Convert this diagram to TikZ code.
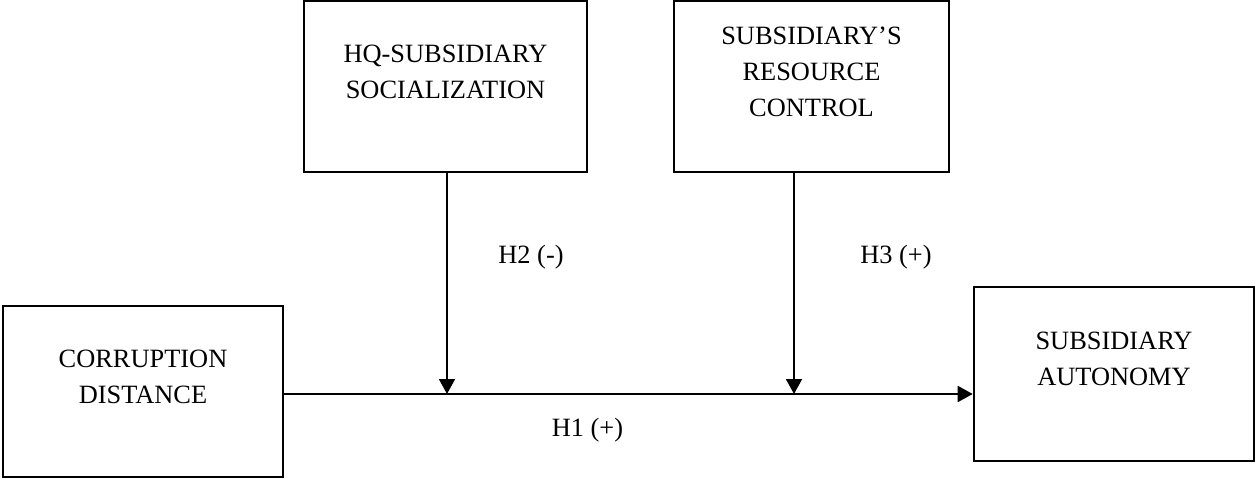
\documentclass[tikz,border=0pt]{standalone}
\usepackage{fontspec}
\setmainfont{Liberation Serif}
\usetikzlibrary{arrows.meta}
\tikzstyle{factor} = [
    rectangle,
    minimum width=280pt,
    minimum height=171pt,
    inner sep=0pt,
    line width=2.6pt,
    draw=black
]
\tikzstyle{boxtext} = [
    align=center,
    inner sep=0pt,
    font=\fontsize{26.4}{36}\selectfont
]
\tikzstyle{hyp} = [
    inner sep=0pt,
    font=\fontsize{26.4}{36}\selectfont
]
\tikzstyle{arrow} = [line width=1.8pt,-{Triangle[length=15pt,width=16pt]}]

\begin{document}
\begin{tikzpicture}[x=1pt,y=-1pt]

\useasboundingbox (0,0) rectangle (1255,478);

\node (socialization) [factor, minimum width=283pt] at (445.5,86.5) {};
\node (socializationtext) [boxtext] at (445.5,72)
{HQ-SUBSIDIARY\\SOCIALIZATION};

\node (resource) [factor, minimum width=275pt] at (811.5,86.5) {};
\node (resourcetext) [boxtext] at (811.5,71.7)
{SUBSIDIARY’S\\RESOURCE\\CONTROL};

\node (corruption) [factor] at (143,391.5) {};
\node (corruptiontext) [boxtext] at (143,377)
{CORRUPTION\\DISTANCE};

\node (autonomy) [factor, minimum height=174pt] at (1114,374) {};
\node (autonomytext) [boxtext] at (1114,359)
{SUBSIDIARY\\AUTONOMY};

\coordinate (join1) at (447,394);
\coordinate (join2) at (794,394);

\node (h1) [hyp] at (587.5,430) {H1 (+)};
\node (h2) [hyp] at (531,257) {H2 (-)};
\node (h3) [hyp] at (896,257) {H3 (+)};

\draw [arrow] (socialization.south -| join1) -- (join1);
\draw [arrow] (resource.south -| join2) -- (join2);
\draw [arrow] (corruption.east |- join1) -- (autonomy.west |- join1);

\end{tikzpicture}
\end{document}
